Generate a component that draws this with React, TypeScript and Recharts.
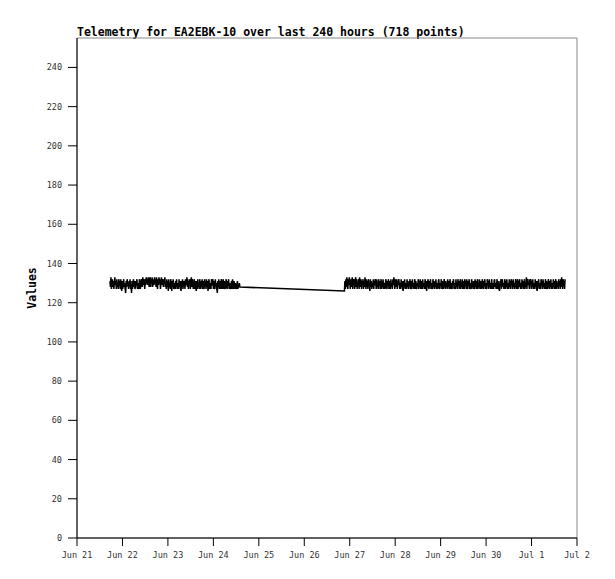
import React from 'react';
import { LineChart, Line, XAxis, YAxis, ReferenceArea } from 'recharts';

// hours since Jun 21 00:00
const dayLabels = ['Jun 21', 'Jun 22', 'Jun 23', 'Jun 24', 'Jun 25', 'Jun 26', 'Jun 27', 'Jun 28', 'Jun 29', 'Jun 30', 'Jul 1', 'Jul 2'];
const xTicks = [0, 24, 48, 72, 96, 120, 144, 168, 192, 216, 240, 264];
const yTicks = [0, 20, 40, 60, 80, 100, 120, 140, 160, 180, 200, 220, 240];

const seg1Span = [17.4, 86.0];
const seg1Values = [
  131, 128, 133, 127, 130, 132, 128, 131, 127, 130, 133, 129, 131, 127, 132, 128, 130, 127, 132,
  129, 131, 127, 132, 128, 126, 131, 127, 129, 132, 128, 130, 127, 125, 131, 128, 132, 129, 130,
  127, 131, 128, 132, 127, 129, 125, 131, 127, 130, 132, 128, 131, 127, 128, 131, 129, 132, 127,
  130, 128, 127, 132, 130, 127, 129, 132, 130, 128, 133, 129, 132, 130, 127, 132, 129, 133, 130,
  132, 129, 133, 130, 128, 132, 133, 128, 132, 130, 133, 128, 132, 130, 129, 133, 130, 132, 128,
  133, 130, 127, 132, 129, 133, 130, 132, 127, 130, 133, 129, 132, 130, 128, 132, 130, 133, 128,
  130, 127, 132, 128, 131, 126, 132, 128, 130, 127, 132, 129, 126, 131, 128, 132, 127, 130, 128,
  127, 131, 128, 132, 127, 130, 129, 127, 132, 128, 131, 127, 126, 131, 128, 132, 127, 131, 129,
  131, 127, 132, 129, 130, 133, 128, 132, 127, 131, 129, 132, 127, 130, 133, 128, 132, 130, 127,
  129, 132, 127, 131, 128, 126, 131, 127, 132, 128, 130, 127, 132, 129, 127, 131, 128, 132, 127,
  131, 128, 127, 132, 129, 130, 127, 132, 128, 131, 126, 129, 132, 127, 130, 128, 127, 132, 129,
  129, 132, 127, 131, 128, 127, 132, 128, 130, 127, 125, 131, 128, 132, 127, 129, 131, 127, 132,
  130, 127, 129, 132, 127, 131, 128, 127, 130, 132, 128, 127, 131, 129, 132, 127, 130, 128, 127,
  129, 131, 127, 132, 128, 127, 131, 129, 127, 130, 128, 127, 129, 131, 127, 129, 128, 130, 128,
];

const seg2Span = [141.2, 257.7];
const seg2Values = [
  126, 131, 127, 132, 128, 133, 130, 127, 132, 129, 133, 130, 127, 132, 128, 130, 133, 127, 132,
  129, 132, 127, 131, 133, 128, 132, 127, 130, 129, 132, 127, 133, 130, 128, 132, 127, 131, 129,
  132, 127, 131, 128, 133, 130, 127, 132, 128, 131, 127, 132, 129, 130, 126, 132, 128, 131, 127,
  130, 128, 132, 127, 131, 129, 132, 130, 127, 132, 128, 130, 127, 132, 129, 131, 127, 129, 132,
  127, 131, 128, 132, 127, 130, 129, 127, 131, 132, 128, 127, 131, 129, 132, 127, 129, 131, 127,
  132, 128, 130, 127, 132, 129, 133, 130, 127, 132, 130, 128, 132, 127, 131, 129, 132, 130, 127,
  130, 127, 132, 128, 131, 127, 126, 131, 128, 132, 127, 130, 129, 127, 132, 128, 131, 127, 130,
  129, 132, 127, 131, 128, 127, 132, 128, 130, 127, 129, 132, 127, 131, 128, 127, 130, 129, 132,
  127, 131, 128, 132, 127, 129, 131, 127, 132, 128, 130, 127, 129, 132, 127, 131, 126, 129, 130,
  132, 128, 127, 131, 129, 132, 127, 130, 128, 127, 132, 130, 129, 127, 131, 128, 132, 127, 130,
  129, 127, 131, 132, 128, 127, 130, 129, 132, 127, 131, 128, 127, 130, 132, 129, 127, 131, 128,
  130, 127, 132, 128, 131, 127, 129, 132, 127, 130, 128, 127, 131, 129, 132, 127, 130, 128, 127,
  132, 128, 130, 127, 132, 129, 131, 127, 129, 132, 127, 130, 128, 132, 127, 131, 129, 127, 132,
  129, 131, 127, 132, 128, 127, 131, 129, 132, 127, 130, 128, 127, 132, 130, 129, 127, 131, 128,
  127, 132, 128, 131, 127, 129, 132, 127, 130, 128, 132, 127, 131, 129, 127, 130, 132, 128, 127,
  131, 129, 132, 127, 130, 128, 127, 132, 129, 131, 127, 132, 128, 130, 127, 129, 132, 127, 130,
  129, 127, 131, 132, 128, 130, 127, 129, 132, 127, 131, 128, 127, 126, 131, 129, 132, 127, 130,
  132, 128, 130, 127, 129, 132, 127, 131, 128, 132, 127, 130, 129, 127, 132, 128, 131, 127, 132,
  129, 131, 127, 132, 128, 130, 127, 129, 132, 130, 127, 129, 132, 127, 131, 128, 132, 129, 127,
  130, 127, 132, 128, 131, 127, 129, 132, 127, 130, 128, 133, 127, 131, 132, 129, 130, 127, 132,
  129, 132, 127, 131, 128, 132, 127, 130, 129, 127, 132, 128, 131, 127, 126, 131, 129, 132, 127,
  130, 128, 127, 132, 129, 131, 127, 132, 128, 130, 127, 129, 132, 127, 131, 128, 127, 130, 132,
  129, 127, 131, 128, 132, 127, 130, 129, 127, 132, 128, 131, 127, 129, 132, 127, 131, 128, 130,
  127, 132, 129, 131, 127, 132, 128, 133, 130, 127, 132, 129, 131, 127, 132,
];

const toPoints = (span: number[], values: number[]) =>
  values.map((v, i) => ({
    t: span[0] + (i * (span[1] - span[0])) / (values.length - 1),
    value: v,
  }));

const data = [...toPoints(seg1Span, seg1Values), ...toPoints(seg2Span, seg2Values)];

const mono = '"DejaVu Sans Mono", monospace';

export default function App() {
  return (
    <div style={{ position: 'absolute', left: 0, top: 0, width: 615, height: 579, background: '#fff' }}>
      <div
        style={{
          position: 'absolute',
          left: 77,
          top: 25,
          fontFamily: mono,
          fontWeight: 'bold',
          fontSize: 11.5,
          color: '#000',
          whiteSpace: 'nowrap',
        }}
      >
        Telemetry for EA2EBK-10 over last 240 hours (718 points)
      </div>
      <div
        style={{
          position: 'absolute',
          left: 32,
          top: 288,
          transform: 'translate(-50%, -50%) rotate(-90deg)',
          fontFamily: mono,
          fontWeight: 'bold',
          fontSize: 11.5,
          color: '#000',
          whiteSpace: 'nowrap',
        }}
      >
        Values
      </div>
      <LineChart width={615} height={579} data={data} margin={{ top: 38, right: 38, bottom: 0, left: 0 }}>
        <ReferenceArea x1={0} x2={264} y1={0} y2={255} fill="none" stroke="#888" strokeWidth={1} />
        <XAxis
          dataKey="t"
          type="number"
          domain={[0, 264]}
          ticks={xTicks}
          tickFormatter={(v: number) => dayLabels[xTicks.indexOf(v)]}
          height={41}
          stroke="#000"
          tickSize={8}
          tickMargin={6}
          tick={{ fontFamily: mono, fontSize: 8.5, fill: '#333' }}
          interval={0}
        />
        <YAxis
          type="number"
          domain={[0, 255]}
          ticks={yTicks}
          width={77}
          stroke="#000"
          tickSize={9}
          tickMargin={6}
          tick={{ fontFamily: mono, fontSize: 8.5, fill: '#333' }}
          interval={0}
        />
        <Line
          type="linear"
          dataKey="value"
          stroke="#000"
          strokeWidth={1.5}
          dot={false}
          isAnimationActive={false}
        />
      </LineChart>
    </div>
  );
}
